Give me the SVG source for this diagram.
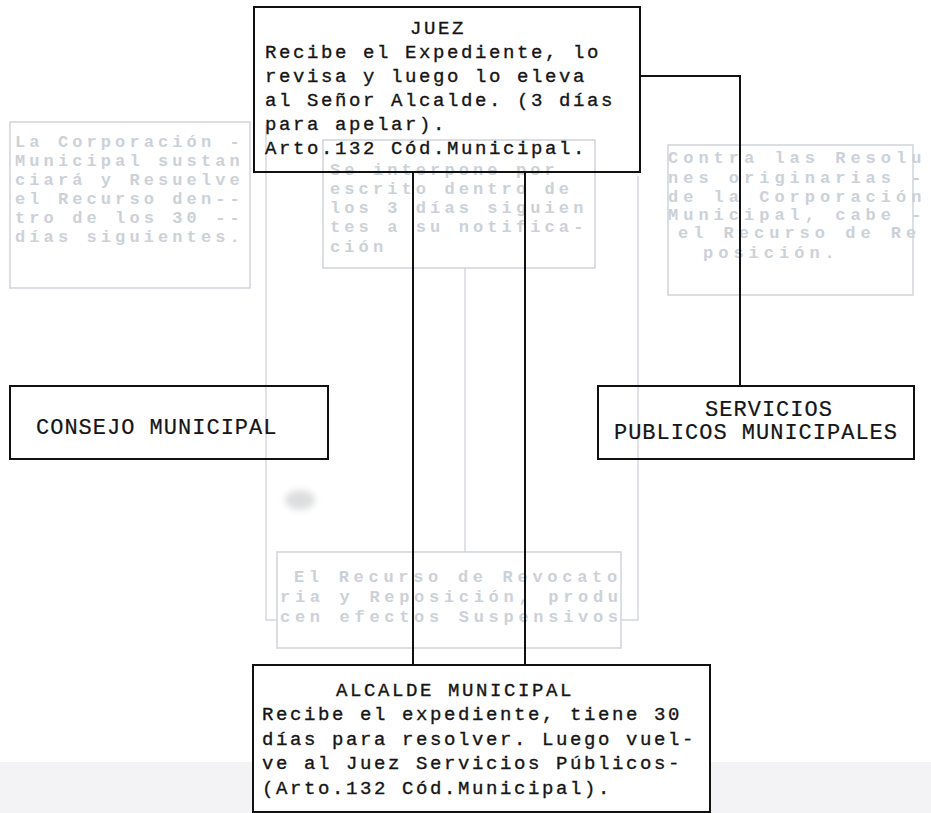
<svg xmlns="http://www.w3.org/2000/svg" width="931" height="813" viewBox="0 0 931 813">
<style>
.box{fill:none;stroke:#111;stroke-width:2}
.wbox{fill:#fff;stroke:#111;stroke-width:2}
.t{font-family:"Liberation Mono","DejaVu Sans Mono",monospace;font-size:19px;letter-spacing:2.6px;fill:#151515;stroke:#151515;stroke-width:0.35}
.c{font-family:"Liberation Mono","DejaVu Sans Mono",monospace;font-size:22px;letter-spacing:1px;fill:#151515;stroke:#151515;stroke-width:0.2}
.fbox{fill:none;stroke:#d2d6dc;stroke-width:1.6}
.fl{fill:none;stroke:#d2d6dc;stroke-width:1.4}
.f{font-family:"Liberation Mono","DejaVu Sans Mono",monospace;font-size:17px;font-weight:bold;letter-spacing:4.1px;fill:#ccd1d8}
.ln{fill:none;stroke:#111;stroke-width:2}
</style>
<defs>
<filter id="blur" x="-50%" y="-50%" width="200%" height="200%"><feGaussianBlur stdDeviation="3"/></filter>
</defs>
<rect x="0" y="0" width="931" height="813" fill="#fff"/>
<rect x="0" y="762" width="931" height="51" fill="#f3f3f5"/>

<g id="faint-corporacion">
<rect class="fbox" x="10" y="122" width="240" height="166"/>
<text class="f" x="15" y="147">La Corporación -</text>
<text class="f" x="15" y="166">Municipal sustan</text>
<text class="f" x="15" y="185">ciará y Resuelve</text>
<text class="f" x="15" y="204">el Recurso den--</text>
<text class="f" x="15" y="223">tro de los 30 --</text>
<text class="f" x="15" y="242">días siguientes.</text>
</g>
<g id="faint-interpone">
<rect class="fbox" x="323" y="140" width="272" height="128"/>
<text class="f" x="330" y="175">Se interpone por</text>
<text class="f" x="330" y="194">escrito dentro de</text>
<text class="f" x="330" y="213">los 3 días siguien</text>
<text class="f" x="330" y="232">tes a su notifica-</text>
<text class="f" x="330" y="252">ción</text>
</g>
<g id="faint-contra">
<rect class="fbox" x="668" y="145" width="245" height="150"/>
<text class="f" x="668" y="163" style="letter-spacing:5px">Contra las Resolu</text>
<text class="f" x="668" y="183" style="letter-spacing:5px">nes originarias -</text>
<text class="f" x="668" y="202" style="letter-spacing:5px">de la Corporación</text>
<text class="f" x="668" y="220" style="letter-spacing:5px">Municipal, cabe -</text>
<text class="f" x="678" y="238" style="letter-spacing:5px">el Recurso de Re</text>
<text class="f" x="703" y="258" style="letter-spacing:5px">posición.</text>
</g>
<g id="faint-recurso">
<rect class="fbox" x="277" y="552" width="344" height="96"/>
<text class="f" x="294" y="582" style="letter-spacing:4.7px">El Recurso de Revocato</text>
<text class="f" x="280" y="602" style="letter-spacing:4.7px">ria y Reposición, produ</text>
<text class="f" x="280" y="622" style="letter-spacing:4.7px">cen efectos Suspensivos</text>
</g>
<g id="faint-connectors">
<path class="fl" d="M266 125 V620 H277"/>
<path class="fl" d="M465 268 V552"/>
<path class="fl" d="M638 176 V620 H621"/>
</g>
<ellipse cx="300" cy="500" rx="15" ry="10" fill="#cfd0d2" opacity="0.7" filter="url(#blur)"/>

<g id="connectors">
<path class="ln" d="M413 172 V665"/>
<path class="ln" d="M525 172 V665"/>
<path class="ln" d="M640 76 H740 V386"/>
</g>

<g id="juez">
<rect class="box" x="254" y="7" width="386" height="165"/>
<text class="t" x="438" y="34" text-anchor="middle">JUEZ</text>
<text class="t" x="265" y="58">Recibe el Expediente, lo</text>
<text class="t" x="265" y="82">revisa y luego lo eleva</text>
<text class="t" x="265" y="106">al Señor Alcalde. (3 días</text>
<text class="t" x="265" y="130">para apelar).</text>
<text class="t" x="265" y="154">Arto.132 Cód.Municipal.</text>
</g>

<g id="consejo">
<rect class="box" x="10" y="386" width="318" height="73"/>
<text class="c" x="36" y="434">CONSEJO MUNICIPAL</text>
</g>

<g id="servicios">
<rect class="box" x="598" y="386" width="316" height="73"/>
<text class="c" x="769" y="416" text-anchor="middle">SERVICIOS</text>
<text class="c" x="756" y="439" text-anchor="middle">PUBLICOS MUNICIPALES</text>
</g>

<g id="alcalde">
<rect class="wbox" x="253" y="665" width="457" height="147"/>
<text class="t" x="455" y="696" text-anchor="middle">ALCALDE MUNICIPAL</text>
<text class="t" x="262" y="720">Recibe el expediente, tiene 30</text>
<text class="t" x="262" y="745">días para resolver. Luego vuel-</text>
<text class="t" x="262" y="769">ve al Juez  Servicios Públicos-</text>
<text class="t" x="262" y="794">(Arto.132 Cód.Municipal).</text>
</g>
</svg>
